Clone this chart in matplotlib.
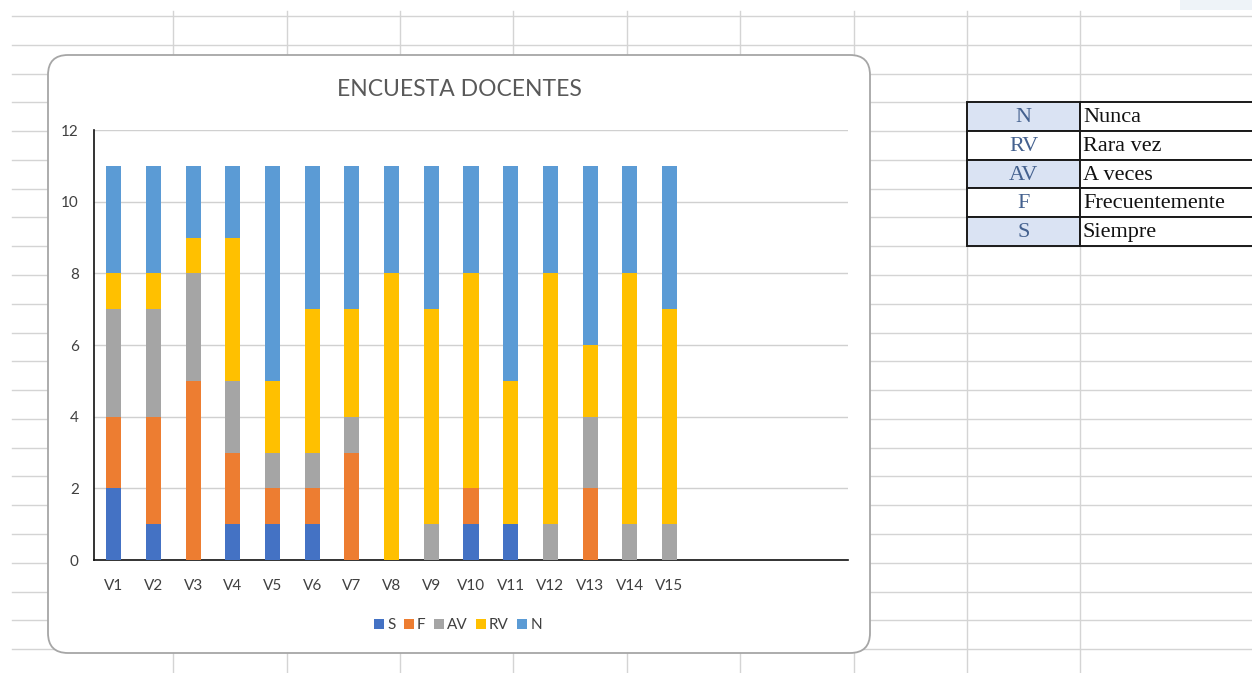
import numpy as np
import matplotlib
matplotlib.use("Agg")
import matplotlib.pyplot as plt
from matplotlib.patches import FancyBboxPatch, Rectangle

# ---------------- data ----------------
categories = ["V1", "V2", "V3", "V4", "V5", "V6", "V7", "V8", "V9", "V10",
              "V11", "V12", "V13", "V14", "V15"]
series_names = ["S", "F", "AV", "RV", "N"]
S  = [2, 1, 0, 1, 1, 1, 0, 0, 0, 1, 1, 0, 0, 0, 0]
F  = [2, 3, 5, 2, 1, 1, 3, 0, 0, 1, 0, 0, 2, 0, 0]
AV = [3, 3, 3, 2, 1, 1, 1, 0, 1, 0, 0, 1, 2, 1, 1]
RV = [1, 1, 1, 4, 2, 4, 3, 8, 6, 6, 4, 7, 2, 7, 6]
N  = [3, 3, 2, 2, 6, 4, 4, 3, 4, 3, 6, 3, 5, 3, 4]
n_slots = 19  # the category axis has room for 19 columns (4 empty)
y_ticks = [0, 2, 4, 6, 8, 10, 12]
title = "ENCUESTA DOCENTES"

table_codes = ["N", "RV", "AV", "F", "S"]
table_meanings = ["Nunca", "Rara vez", "A veces", "Frecuentemente", "Siempre"]

colors = {"S": "#4472C4", "F": "#ED7D31", "AV": "#A5A5A5", "RV": "#FFC000", "N": "#5B9BD5"}

W, H = 1252, 673
fig = plt.figure(figsize=(W / 100, H / 100), dpi=100)
fig.patch.set_facecolor("white")

# ---------------- spreadsheet background (pixel coords) ----------------
bg = fig.add_axes([0, 0, 1, 1], zorder=0)
bg.set_xlim(0, W)
bg.set_ylim(H, 0)
bg.axis("off")

grid_c = "#D4D4D4"
row_y = [16 + 28.78 * i for i in range(23)]
for y in row_y:
    if y < H:
        bg.plot([12, W], [y, y], color=grid_c, lw=1.0, zorder=1)
col_x = [173, 287, 400, 513, 627, 740, 854, 967, 1080]
for x in col_x:
    bg.plot([x, x], [11, H], color=grid_c, lw=1.0, zorder=1)
bg.add_patch(Rectangle((1180, 0), 72, 10, facecolor="#EEF3F8", edgecolor="none", zorder=1))

# chart box
box = FancyBboxPatch((48 + 20, 55 + 20), 870 - 48 - 40, 653 - 55 - 40,
                     boxstyle="round,pad=20", facecolor="white",
                     edgecolor="#A6A6A6", lw=1.3, zorder=2)
bg.add_patch(box)

# legend table
tx0, tx1, tx2 = 967, 1080, 1262
ty0, rh = 102, 28.8
for i, (code, meaning) in enumerate(zip(table_codes, table_meanings)):
    y = ty0 + i * rh
    fc = "#DAE3F3" if i % 2 == 0 else "white"
    bg.add_patch(Rectangle((tx0, y), tx1 - tx0, rh, facecolor=fc,
                           edgecolor="#1A1A1A", lw=1.4, zorder=3))
    bg.add_patch(Rectangle((tx1, y), tx2 - tx1, rh, facecolor="white",
                           edgecolor="#1A1A1A", lw=1.4, zorder=3))
    bg.text((tx0 + tx1) / 2, y + rh / 2 + 1, code, ha="center", va="center",
            fontsize=16, family="Liberation Serif", color="#44618F", zorder=4)
    bg.text(tx1 + 3, y + rh / 2 + 1, meaning, ha="left", va="center",
            fontsize=16, family="Liberation Serif", color="#111111", zorder=4)

# title
bg.text(459, 89, title, ha="center", va="center", fontsize=16.5,
        family="Lato", color="#595959", zorder=5)

# ---------------- bar chart ----------------
left, right, top, bottom = 94, 848, 130, 560
ax = fig.add_axes([left / W, 1 - bottom / H, (right - left) / W, (bottom - top) / H], zorder=5)
ax.patch.set_alpha(0)

x = np.arange(len(categories))
data = {"S": S, "F": F, "AV": AV, "RV": RV, "N": N}
base = np.zeros(len(categories))
handles = []
for name in series_names:
    vals = np.array(data[name], dtype=float)
    b = ax.bar(x, vals, width=0.38, bottom=base, color=colors[name], label=name, zorder=3)
    handles.append(b)
    base += vals

ax.set_xlim(-0.5, n_slots - 0.5)
ax.set_ylim(0, 12)
ax.set_yticks(y_ticks)
ax.set_xticks(x, categories)
ax.yaxis.grid(True, color="#D0D0D0", lw=1.0, zorder=0)
ax.set_axisbelow(True)
for s in ["top", "right"]:
    ax.spines[s].set_visible(False)
ax.spines["left"].set_color("#111111")
ax.spines["bottom"].set_color("#111111")
ax.spines["left"].set_linewidth(1.2)
ax.spines["bottom"].set_linewidth(1.2)
ax.tick_params(axis="both", length=0, labelsize=11, labelcolor="#404040")
ax.tick_params(axis="y", pad=11)
ax.tick_params(axis="x", pad=14)
for lab in ax.get_xticklabels() + ax.get_yticklabels():
    lab.set_family("Lato")

leg = fig.legend(handles=handles, labels=series_names, loc="center",
                 bbox_to_anchor=(458 / W, 1 - 625 / H), ncol=5, frameon=False,
                 handlelength=0.65, handleheight=0.65, handletextpad=0.2,
                 columnspacing=0.55, prop={"family": "Lato", "size": 11})
for t in leg.get_texts():
    t.set_color("#404040")

fig.savefig("out.png", dpi=100)
